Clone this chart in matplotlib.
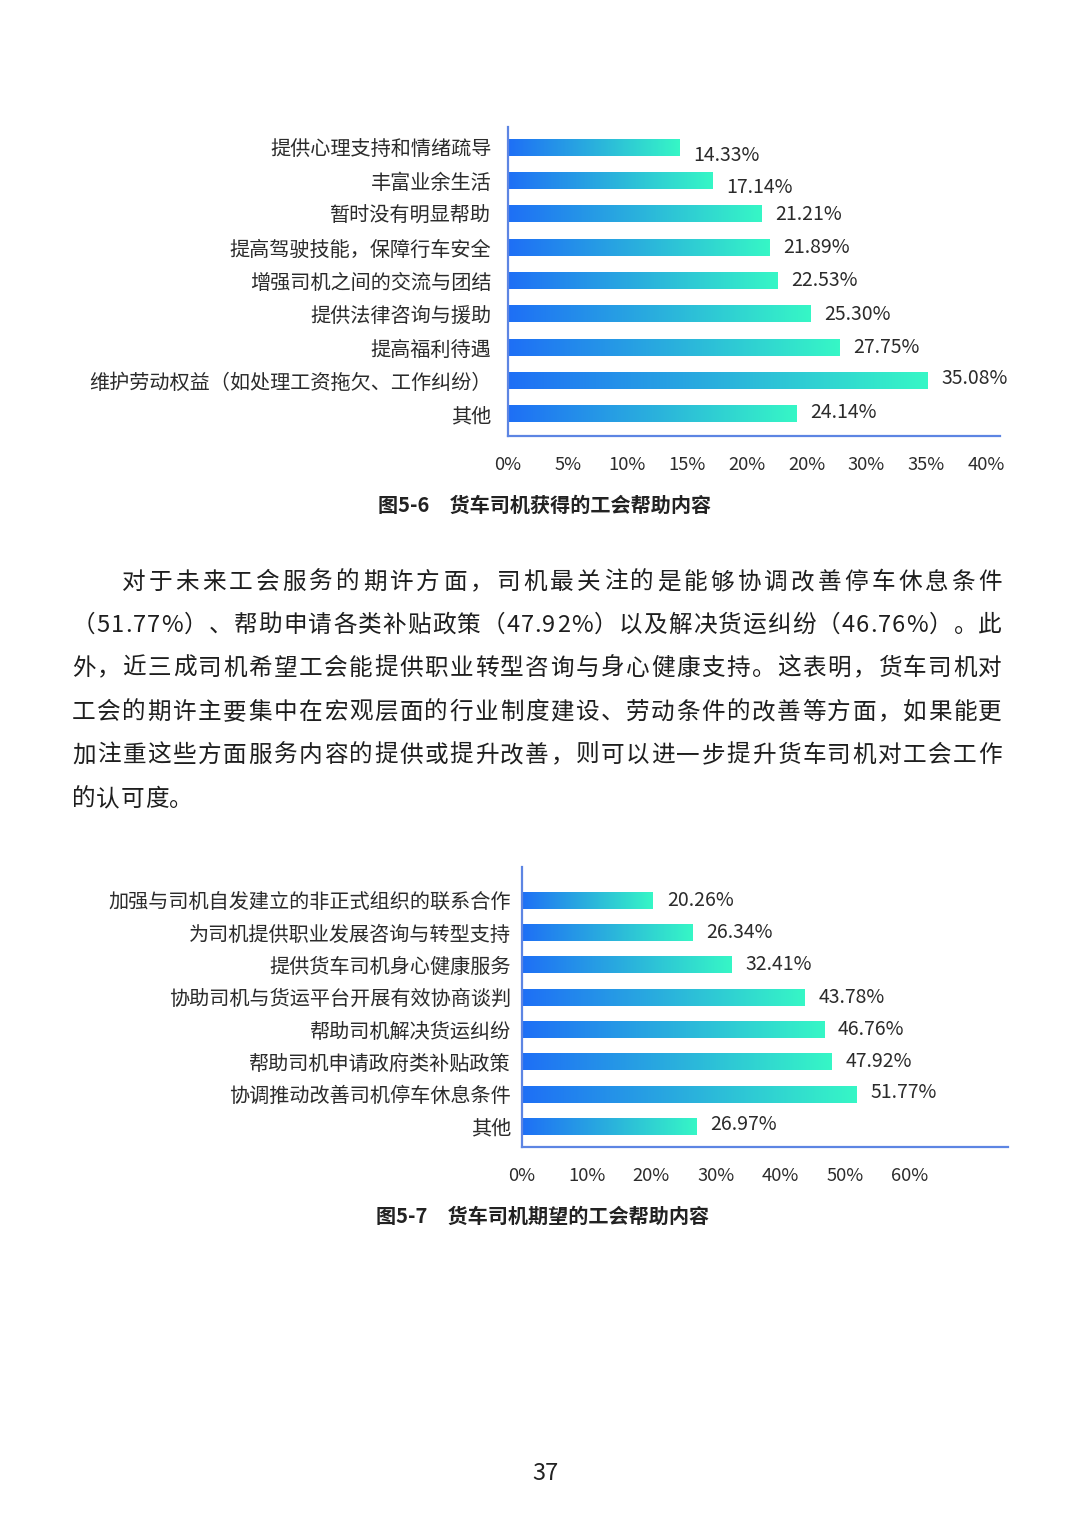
import numpy as np
import matplotlib
matplotlib.use('Agg')
import matplotlib.pyplot as plt
from matplotlib.colors import LinearSegmentedColormap
from matplotlib import font_manager
from matplotlib.ft2font import FT2Font

plt.rcParams['font.family'] = ['Noto Sans CJK SC', 'DejaVu Sans']

# ---------------- data ----------------
cats1 = ['提供心理支持和情绪疏导', '丰富业余生活', '暂时没有明显帮助',
         '提高驾驶技能，保障行车安全', '增强司机之间的交流与团结',
         '提供法律咨询与援助', '提高福利待遇',
         '维护劳动权益（如处理工资拖欠、工作纠纷）', '其他']
vals1 = [14.33, 17.14, 21.21, 21.89, 22.53, 25.30, 27.75, 35.08, 24.14]
ticks1 = [0, 5, 10, 15, 20, 25, 30, 35, 40]
ticklabels1 = ['0%', '5%', '10%', '15%', '20%', '20%', '30%', '35%', '40%']
caption1 = '图5-6　货车司机获得的工会帮助内容'

cats2 = ['加强与司机自发建立的非正式组织的联系合作', '为司机提供职业发展咨询与转型支持',
         '提供货车司机身心健康服务', '协助司机与货运平台开展有效协商谈判',
         '帮助司机解决货运纠纷', '帮助司机申请政府类补贴政策',
         '协调推动改善司机停车休息条件', '其他']
vals2 = [20.26, 26.34, 32.41, 43.78, 46.76, 47.92, 51.77, 26.97]
ticks2 = [0, 10, 20, 30, 40, 50, 60]
ticklabels2 = ['0%', '10%', '20%', '30%', '40%', '50%', '60%']
caption2 = '图5-7　货车司机期望的工会帮助内容'

para_lines = [
    '对于未来工会服务的期许方面，司机最关注的是能够协调改善停车休息条件',
    '（51.77%）、帮助申请各类补贴政策（47.92%）以及解决货运纠纷（46.76%）。此',
    '外，近三成司机希望工会能提供职业转型咨询与身心健康支持。这表明，货车司机对',
    '工会的期许主要集中在宏观层面的行业制度建设、劳动条件的改善等方面，如果能更',
    '加注重这些方面服务内容的提供或提升改善，则可以进一步提升货车司机对工会工作',
    '的认可度。',
]
page_number = '37'

# label vertical nudges (pixels, downward) — layout only
label_dy1 = [8, 7, 0, 0, 0, 0, 0, -2, -2]
label_dy2 = [0, 0, 0, 0, 0, 0, -2, -2]

# ---------------- figure ----------------
W, H = 1080, 1527
fig = plt.figure(figsize=(W / 100, H / 100), dpi=100)
fig.patch.set_facecolor('white')

cmap = LinearSegmentedColormap.from_list('g', ['#1e6ff6', '#2ab0dd', '#36f7c6'])
grad = np.linspace(0, 1, 256).reshape(1, -1)
TXT = '#2b2b2b'
AXC = '#5d85e3'


def px_axes(l, t, r, b):
    return fig.add_axes([l / W, 1 - b / H, (r - l) / W, (b - t) / H])


def draw_chart(ax, cats, vals, ticks, ticklabels, xmax, ylim, bar_h, ypad, dys):
    ys = np.arange(len(cats))
    for y, v, dy in zip(ys, vals, dys):
        ax.imshow(grad, extent=[0, v, y + bar_h / 2, y - bar_h / 2],
                  aspect='auto', cmap=cmap, interpolation='bilinear', zorder=2)
        ax.annotate(f'{v:.2f}%', xy=(v, y), xytext=(10, -dy * 0.72),
                    textcoords='offset points',
                    ha='left', va='center', fontsize=14, color=TXT)
    ax.set_xlim(0, xmax)
    ax.set_ylim(*ylim)
    ax.set_yticks(ys)
    ax.set_yticklabels(cats, fontsize=14.5, color=TXT)
    ax.set_xticks(ticks)
    ax.set_xticklabels(ticklabels, fontsize=13.2, color=TXT)
    ax.tick_params(axis='both', length=0)
    ax.tick_params(axis='y', pad=ypad)
    ax.tick_params(axis='x', pad=14.5)
    for s in ['top', 'right']:
        ax.spines[s].set_visible(False)
    for s in ['left', 'bottom']:
        ax.spines[s].set_color(AXC)
        ax.spines[s].set_linewidth(1.6)
    ax.set_facecolor('none')


ax1 = px_axes(508, 127, 1000, 436)
draw_chart(ax1, cats1, vals1, ticks1, ticklabels1, (1000 - 508) / 11.95,
           (8.65, -0.61), 0.49, 12, label_dy1)

ax2 = px_axes(522, 867, 1008, 1147)
draw_chart(ax2, cats2, vals2, ticks2, ticklabels2, (1008 - 522) / 6.46,
           (7.63, -1.03), 0.51, 8, label_dy2)

fig.text(545 / W, 1 - 505 / H, caption1, ha='center', va='center',
         fontsize=14.5, fontweight='bold', color='#222222')
fig.text(543 / W, 1 - 1216 / H, caption2, ha='center', va='center',
         fontsize=14.5, fontweight='bold', color='#222222')

# ---------------- justified paragraph ----------------
para_fs = 17
try:
    fpath = font_manager.findfont(font_manager.FontProperties(family='Noto Sans CJK SC'))
    ft = FT2Font(fpath)
    ft.set_size(para_fs, 100)

    def adv(c):
        g = ft.load_char(ord(c))
        return g.linearHoriAdvance / 65536
except Exception:
    em = para_fs * 100 / 72

    def adv(c):
        return em * (0.55 if ord(c) < 128 else 1.0)

line_y = [580, 623, 666, 710, 753, 797]
for i, line in enumerate(para_lines):
    x0 = 122 if i == 0 else 72
    x1 = 1002
    chars = list(line)
    advs = [adv(c) for c in chars]
    justify = i < len(para_lines) - 1
    extra = (x1 - x0 - sum(advs)) / (len(chars) - 1) if justify else 0.6
    x = x0
    yb = line_y[i] + 9
    for c, a in zip(chars, advs):
        fig.text(x / W, 1 - yb / H, c, ha='left', va='baseline',
                 fontsize=para_fs, color='#1e1e1e')
        x += a + extra

fig.text(545 / W, 1 - 1473 / H, page_number, ha='center', va='center',
         fontsize=17, color='#222222')

fig.savefig('out.png', dpi=100, facecolor='white')
